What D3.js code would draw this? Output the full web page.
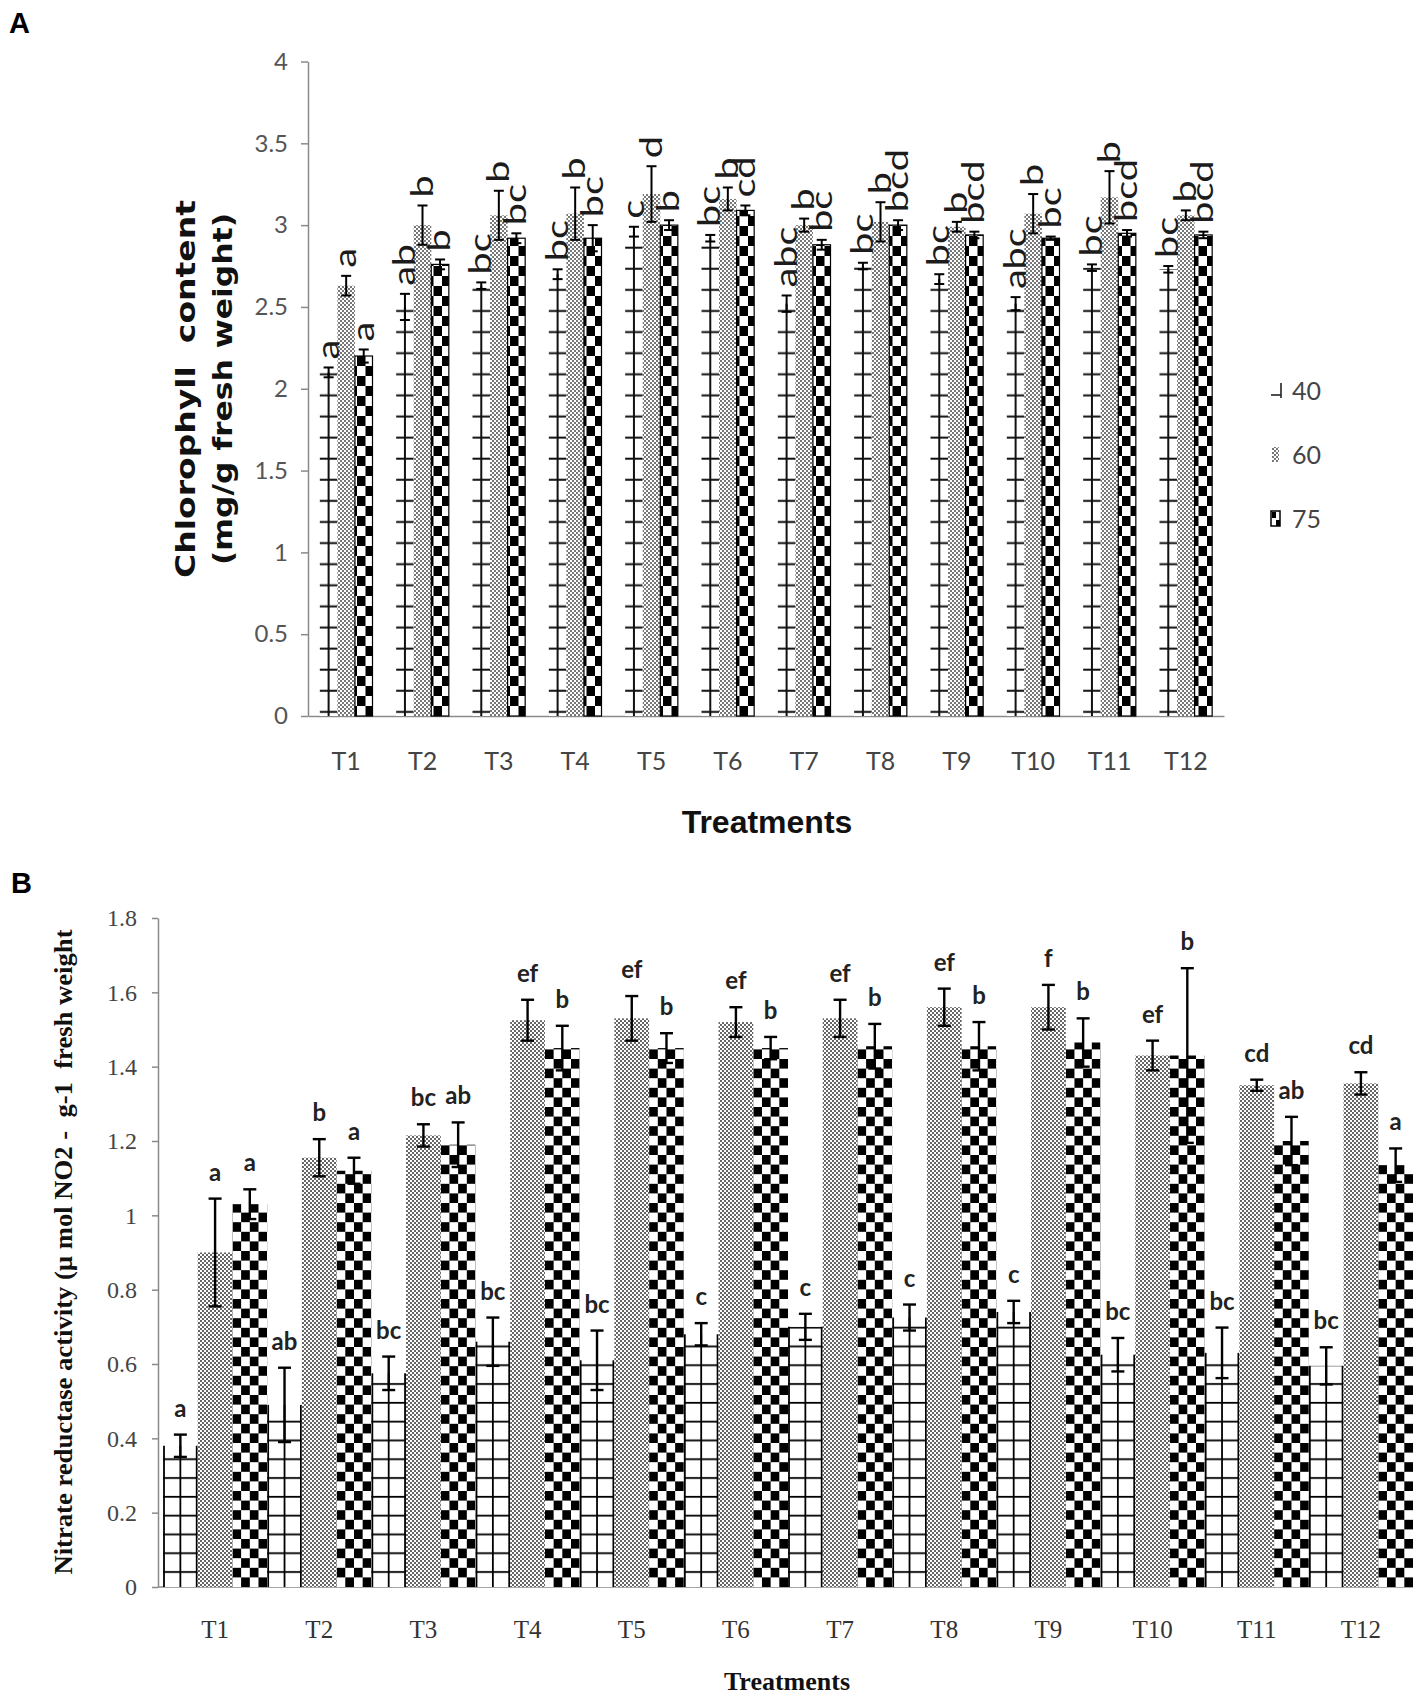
<!DOCTYPE html>
<html>
<head>
<meta charset="utf-8">
<script src="https://cdn.jsdelivr.net/npm/d3@7"></script>
<style>
  body { margin: 0; background: #fff; }
  text { white-space: pre; }
</style>
</head>
<body>
<svg id="fig" width="1418" height="1699"></svg>
<script>
// ---------- DATA ----------
var treatments = ['T1', 'T2', 'T3', 'T4', 'T5', 'T6', 'T7', 'T8', 'T9', 'T10', 'T11', 'T12'];
var levels = ['40', '60', '75'];

// Panel A: chlorophyll content (mg/g fresh weight)
var chl40 = [2.10, 2.50, 2.63, 2.70, 2.96, 2.92, 2.52, 2.75, 2.67, 2.52, 2.74, 2.73];
var chl60 = [2.63, 3.00, 3.06, 3.07, 3.19, 3.16, 3.00, 3.02, 2.99, 3.07, 3.17, 3.06];
var chl75 = [2.20, 2.76, 2.92, 2.92, 3.00, 3.09, 2.88, 3.00, 2.94, 2.92, 2.95, 2.94];
var chlErr40 = [0.03, 0.08, 0.02, 0.03, 0.03, 0.02, 0.05, 0.02, 0.03, 0.04, 0.02, 0.02];
var chlErr60 = [0.06, 0.12, 0.15, 0.16, 0.17, 0.07, 0.04, 0.12, 0.03, 0.12, 0.16, 0.03];
var chlErr75 = [0.04, 0.03, 0.03, 0.08, 0.03, 0.03, 0.03, 0.03, 0.02, 0.01, 0.02, 0.02];
var chlLet40 = ['a', 'ab', 'bc', 'bc', 'c', 'bc', 'abc', 'bc', 'bc', 'abc', 'bc', 'bc'];
var chlLet60 = ['a', 'b', 'b', 'b', 'd', 'b', 'b', 'b', 'b', 'b', 'b', 'b'];
var chlLet75 = ['a', 'b', 'bc', 'bc', 'b', 'cd', 'bc', 'bcd', 'bcd', 'bc', 'bcd', 'bcd'];
var chlTicks = [0, 0.5, 1, 1.5, 2, 2.5, 3, 3.5, 4];

// Panel B: nitrate reductase activity
var nr40 = [0.38, 0.49, 0.575, 0.66, 0.61, 0.68, 0.70, 0.725, 0.74, 0.625, 0.63, 0.595];
var nr60 = [0.90, 1.155, 1.215, 1.525, 1.53, 1.52, 1.53, 1.56, 1.56, 1.43, 1.35, 1.355];
var nr75 = [1.03, 1.12, 1.19, 1.45, 1.45, 1.45, 1.455, 1.455, 1.465, 1.43, 1.20, 1.135];
var nrErr40 = [0.03, 0.10, 0.045, 0.065, 0.08, 0.03, 0.035, 0.035, 0.03, 0.045, 0.068, 0.05];
var nrErr60 = [0.145, 0.05, 0.03, 0.055, 0.06, 0.04, 0.05, 0.05, 0.06, 0.04, 0.015, 0.03];
var nrErr75 = [0.04, 0.035, 0.06, 0.06, 0.04, 0.03, 0.06, 0.065, 0.065, 0.235, 0.065, 0.045];
var nrLet40 = ['a', 'ab', 'bc', 'bc', 'bc', 'c', 'c', 'c', 'c', 'bc', 'bc', 'bc'];
var nrLet60 = ['a', 'b', 'bc', 'ef', 'ef', 'ef', 'ef', 'ef', 'f', 'ef', 'cd', 'cd'];
var nrLet75 = ['a', 'a', 'ab', 'b', 'b', 'b', 'b', 'b', 'b', 'b', 'ab', 'a'];
var nrTicks = [0, 0.2, 0.4, 0.6, 0.8, 1, 1.2, 1.4, 1.6, 1.8];

// build row objects for one series
function rows(level, vals, errs, lets) {
    return treatments.map(function(t, i) {
        return { t: t, level: level, v: vals[i], e: errs[i], lab: lets[i] };
    });
}
var chlRows = [rows('40', chl40, chlErr40, chlLet40),
               rows('60', chl60, chlErr60, chlLet60),
               rows('75', chl75, chlErr75, chlLet75)];
var nrRows = [rows('40', nr40, nrErr40, nrLet40),
              rows('60', nr60, nrErr60, nrLet60),
              rows('75', nr75, nrErr75, nrLet75)];

var svg = d3.select('#fig');
svg.append('rect').attr('width', 1418).attr('height', 1699).attr('fill', '#fff');
var defs = svg.append('defs');

function pattern(id, w, h, tx, ty) {
    var p = defs.append('pattern')
        .attr('id', id)
        .attr('patternUnits', 'userSpaceOnUse')
        .attr('width', w).attr('height', h)
        .attr('patternTransform', 'translate(' + tx + ',' + ty + ')');
    p.append('rect').attr('width', w).attr('height', h).attr('fill', '#fff');
    return p;
}

// ---------- PANEL A ----------
var xA = d3.scaleBand().domain(treatments).range([308, 1224]).paddingInner(0.31).paddingOuter(0.155);
var xAin = d3.scaleBand().domain(levels).range([0, xA.bandwidth()]);
var yA = d3.scaleLinear().domain([0, 4]).range([716, 61.5]);

// patterns for panel A
var pA40 = pattern('pA40', 20, 21.1, 0, yA(0));
pA40.append('line').attr('x1', 0).attr('x2', 20).attr('y1', 17).attr('y2', 17)
    .attr('stroke', '#111').attr('stroke-width', 2);
var pA60 = pattern('pA60', 4, 4, 0, 0);
pA60.append('rect').attr('width', 2).attr('height', 2).attr('fill', '#777');
pA60.append('rect').attr('x', 2).attr('y', 2).attr('width', 2).attr('height', 2).attr('fill', '#777');
var pA75 = pattern('pA75', 17, 20, 0, yA(0));
pA75.append('rect').attr('width', 8.5).attr('height', 10).attr('fill', '#000');
pA75.append('rect').attr('x', 8.5).attr('y', 10).attr('width', 8.5).attr('height', 10).attr('fill', '#000');

var gA = svg.append('g');

// axes
gA.append('g')
    .attr('transform', 'translate(' + 308 + ',0)')
    .call(d3.axisLeft(yA).tickValues(chlTicks).tickSize(7).tickSizeOuter(0).tickPadding(13)
        .tickFormat(d3.format('.1~f')))
    .call(function(g) {
        g.select('.domain').attr('stroke', '#8a8a8a').attr('stroke-width', 1.5);
        g.selectAll('.tick line').attr('stroke', '#8a8a8a').attr('stroke-width', 1.5);
        g.selectAll('.tick text').attr('font-family', 'Lato').attr('font-size', 24).attr('fill', '#555');
    });

gA.append('g')
    .attr('transform', 'translate(0,' + yA(0) + ')')
    .call(d3.axisBottom(xA).tickSize(0).tickSizeOuter(0).tickPadding(36))
    .call(function(g) {
        g.select('.domain').attr('stroke', '#8a8a8a').attr('stroke-width', 1.5);
        g.selectAll('.tick text').attr('font-family', 'Lato').attr('font-size', 25).attr('fill', '#444');
    });

// bars
var fillA = { '40': 'url(#pA40)', '60': 'url(#pA60)', '75': 'url(#pA75)' };
chlRows.forEach(function(series) {
    var g = gA.append('g');
    g.selectAll('rect.bar').data(series).enter().append('rect')
        .attr('class', 'bar')
        .attr('x', function(d) { return xA(d.t) + xAin(d.level); })
        .attr('width', xAin.bandwidth())
        .attr('y', function(d) { return yA(d.v); })
        .attr('height', function(d) { return yA(0) - yA(d.v); })
        .attr('fill', fillA[series[0].level])
        .attr('stroke', series[0].level == '75' ? '#000' : 'none')
        .attr('stroke-width', 1.2);
    if (series[0].level == '40') {
        // vertical stem of the "+" pattern
        g.selectAll('line.stem').data(series).enter().append('line')
            .attr('x1', function(d) { return xA(d.t) + xAin(d.level) + xAin.bandwidth() / 2; })
            .attr('x2', function(d) { return xA(d.t) + xAin(d.level) + xAin.bandwidth() / 2; })
            .attr('y1', function(d) { return yA(d.v); })
            .attr('y2', yA(0))
            .attr('stroke', '#111').attr('stroke-width', 2);
    }
});

function errorBars(g, data, cx, y, capW, sw) {
    var eg = g.append('g').attr('stroke', '#000').attr('stroke-width', sw);
    eg.selectAll('line.v').data(data).enter().append('line')
        .attr('x1', cx).attr('x2', cx)
        .attr('y1', function(d) { return y(d.v - d.e); })
        .attr('y2', function(d) { return y(d.v + d.e); });
    eg.selectAll('line.top').data(data).enter().append('line')
        .attr('x1', function(d) { return cx(d) - capW / 2; })
        .attr('x2', function(d) { return cx(d) + capW / 2; })
        .attr('y1', function(d) { return y(d.v + d.e); })
        .attr('y2', function(d) { return y(d.v + d.e); });
    eg.selectAll('line.bot').data(data).enter().append('line')
        .attr('x1', function(d) { return cx(d) - capW / 2; })
        .attr('x2', function(d) { return cx(d) + capW / 2; })
        .attr('y1', function(d) { return y(d.v - d.e); })
        .attr('y2', function(d) { return y(d.v - d.e); });
}

var cxA = function(d) { return xA(d.t) + xAin(d.level) + xAin.bandwidth() / 2; };
chlRows.forEach(function(series) {
    errorBars(gA, series, cxA, yA, 10, 2);
    gA.append('g').selectAll('text').data(series).enter().append('text')
        .attr('transform', function(d) {
            return 'translate(' + (cxA(d) + 10) + ',' + (yA(d.v + d.e) - 8) + ') rotate(-90) scale(1.28,1)';
        })
        .attr('font-family', 'Lato').attr('font-size', 31).attr('fill', '#1c1c1c')
        .text(function(d) { return d.lab; });
});

// axis titles panel A
gA.append('text')
    .attr('transform', 'translate(195,389) rotate(-90)')
    .attr('text-anchor', 'middle')
    .attr('font-family', 'DejaVu Sans').attr('font-weight', 'bold').attr('font-size', 27)
    .attr('textLength', 378).attr('lengthAdjust', 'spacingAndGlyphs')
    .attr('fill', '#111')
    .text('Chlorophyll  content');
gA.append('text')
    .attr('transform', 'translate(232,389) rotate(-90)')
    .attr('text-anchor', 'middle')
    .attr('font-family', 'DejaVu Sans').attr('font-weight', 'bold').attr('font-size', 27)
    .attr('textLength', 352).attr('lengthAdjust', 'spacingAndGlyphs')
    .attr('fill', '#111')
    .text('(mg/g fresh weight)');
gA.append('text')
    .attr('x', 767).attr('y', 833)
    .attr('text-anchor', 'middle')
    .attr('font-family', 'Liberation Sans').attr('font-weight', 'bold').attr('font-size', 32)
    .attr('fill', '#111')
    .text('Treatments');

// legend panel A
var legY = d3.scalePoint().domain(levels).range([391, 519]);
var leg = gA.append('g');
leg.append('line').attr('x1', 1281).attr('x2', 1281)
    .attr('y1', legY('40') - 8).attr('y2', legY('40') + 7)
    .attr('stroke', '#222').attr('stroke-width', 1.6);
leg.append('line').attr('x1', 1271).attr('x2', 1281)
    .attr('y1', legY('40') + 4).attr('y2', legY('40') + 4)
    .attr('stroke', '#222').attr('stroke-width', 1.6);
leg.append('rect').attr('x', 1272).attr('y', legY('60') - 8).attr('width', 7).attr('height', 15)
    .attr('fill', 'url(#pA60)');
leg.append('rect').attr('x', 1271).attr('y', legY('75') - 8).attr('width', 9).attr('height', 15)
    .attr('fill', '#fff').attr('stroke', '#000').attr('stroke-width', 1.5);
leg.append('rect').attr('x', 1272).attr('y', legY('75') - 7).attr('width', 4).attr('height', 6).attr('fill', '#000');
leg.append('rect').attr('x', 1276).attr('y', legY('75') + 1).attr('width', 4).attr('height', 6).attr('fill', '#000');
leg.selectAll('text').data(levels).enter().append('text')
    .attr('x', 1292).attr('y', function(d) { return legY(d) + 9; })
    .attr('font-family', 'Lato').attr('font-size', 25).attr('fill', '#444')
    .text(function(d) { return d; });

// panel letter
svg.append('text').attr('x', 9).attr('y', 33)
    .attr('font-family', 'Liberation Sans').attr('font-weight', 'bold').attr('font-size', 29)
    .text('A');

// ---------- PANEL B ----------
var xB = d3.scaleBand().domain(treatments).range([163, 1413]);
var xBin = d3.scaleBand().domain(levels).range([0, xB.bandwidth()]);
var yB = d3.scaleLinear().domain([0, 1.8]).range([1587, 918]);
var wB = xBin.bandwidth();

var pB40 = pattern('pB40', 10, 18.8, 0, yB(0));
pB40.append('line').attr('x1', 0).attr('x2', 10).attr('y1', 3.8).attr('y2', 3.8)
    .attr('stroke', '#000').attr('stroke-width', 1.8);
var pB60 = pattern('pB60', 4, 4, 0, 0);
pB60.append('circle').attr('cx', 1).attr('cy', 1).attr('r', 0.95).attr('fill', '#222');
pB60.append('circle').attr('cx', 3).attr('cy', 3).attr('r', 0.95).attr('fill', '#222');
var cw = wB / 4, ch = 9.6;
var pB75 = pattern('pB75', 2 * cw, 2 * ch, xB('T1') + xBin('75'), yB(0));
pB75.append('rect').attr('width', cw).attr('height', ch).attr('fill', '#000');
pB75.append('rect').attr('x', cw).attr('y', ch).attr('width', cw).attr('height', ch).attr('fill', '#000');

var gB = svg.append('g');

gB.append('g')
    .attr('transform', 'translate(158,0)')
    .call(d3.axisLeft(yB).tickValues(nrTicks).tickSize(6).tickSizeOuter(0).tickPadding(15)
        .tickFormat(d3.format('.1~f')))
    .call(function(g) {
        g.select('.domain').attr('stroke', '#8a8a8a').attr('stroke-width', 1.5);
        g.selectAll('.tick line').attr('stroke', '#8a8a8a').attr('stroke-width', 1.5);
        g.selectAll('.tick text').attr('font-family', 'Liberation Serif').attr('font-size', 24).attr('fill', '#444');
    });

gB.append('g')
    .attr('transform', 'translate(0,' + yB(0) + ')')
    .call(d3.axisBottom(xB).tickSize(0).tickSizeOuter(0).tickPadding(33))
    .call(function(g) {
        g.select('.domain').attr('stroke', '#8a8a8a').attr('stroke-width', 1.5)
            .attr('d', 'M158,0H1413');
        g.selectAll('.tick text').attr('font-family', 'Liberation Serif').attr('font-size', 25).attr('fill', '#333');
    });

var fillB = { '40': 'url(#pB40)', '60': 'url(#pB60)', '75': 'url(#pB75)' };
nrRows.forEach(function(series) {
    var g = gB.append('g');
    g.selectAll('rect.bar').data(series).enter().append('rect')
        .attr('class', 'bar')
        .attr('x', function(d) { return xB(d.t) + xBin(d.level); })
        .attr('width', wB)
        .attr('y', function(d) { return yB(d.v); })
        .attr('height', function(d) { return yB(0) - yB(d.v); })
        .attr('fill', fillB[series[0].level]);
    if (series[0].level == '40') {
        // vertical grid lines of the "40" bars: both edges and the middle
        [0, 0.5, 1].forEach(function(f) {
            g.selectAll('line.v' + f * 10).data(series).enter().append('line')
                .attr('x1', function(d) { return xB(d.t) + xBin(d.level) + 1 + f * (wB - 2); })
                .attr('x2', function(d) { return xB(d.t) + xBin(d.level) + 1 + f * (wB - 2); })
                .attr('y1', function(d) { return yB(d.v); })
                .attr('y2', yB(0))
                .attr('stroke', '#000').attr('stroke-width', 1.8);
        });
    }
});

var cxB = function(d) { return xB(d.t) + xBin(d.level) + wB / 2; };
nrRows.forEach(function(series) {
    errorBars(gB, series, cxB, yB, 13, 2.4);
    gB.append('g').selectAll('text').data(series).enter().append('text')
        .attr('x', cxB)
        .attr('y', function(d) { return yB(d.v + d.e) - 18; })
        .attr('text-anchor', 'middle')
        .attr('font-family', 'Lato').attr('font-weight', 'bold').attr('font-size', 24)
        .attr('fill', '#222')
        .text(function(d) { return d.lab; });
});

gB.append('text')
    .attr('transform', 'translate(72,1252) rotate(-90)')
    .attr('text-anchor', 'middle')
    .attr('font-family', 'Liberation Serif').attr('font-weight', 'bold').attr('font-size', 25)
    .attr('textLength', 645).attr('lengthAdjust', 'spacingAndGlyphs')
    .attr('fill', '#111')
    .text('Nitrate reductase activity (\u00b5 mol NO2 -  g-1  fresh weight');
gB.append('text')
    .attr('x', 787).attr('y', 1690)
    .attr('text-anchor', 'middle')
    .attr('font-family', 'Liberation Serif').attr('font-weight', 'bold').attr('font-size', 26)
    .attr('fill', '#111')
    .text('Treatments');

svg.append('text').attr('x', 11).attr('y', 893)
    .attr('font-family', 'Liberation Sans').attr('font-weight', 'bold').attr('font-size', 29)
    .text('B');
</script>
</body>
</html>
